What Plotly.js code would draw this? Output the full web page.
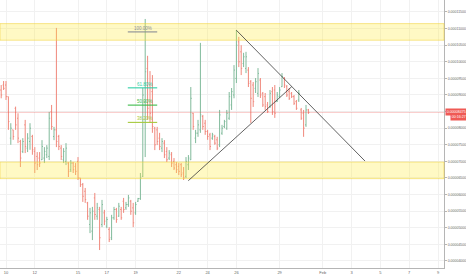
<!DOCTYPE html>
<html><head><meta charset="utf-8">
<script src="https://cdn.plot.ly/plotly-3.0.1.min.js"></script>
<style>html,body{margin:0;padding:0;background:#fff;}#chart{width:466px;height:275px;}</style>
</head><body><div id="chart"></div>
<script>
// 4h bars, prices in units of 1e-8 (satoshi)
var firstBar = '2018-01-09 16:00';
var barHours = 4;
var open = [9150,9300,9300,8950,7700,7950,8600,8300,7600,7300,
 8100,7400,7600,7750,7300,7150,7100,7050,7100,7200,
 7150,8500,7750,7950,7750,7400,7050,7000,6950,6750,
 6950,6850,7000,6500,6300,6100,5750,5100,4900,5900,
 5350,5550,5100,5450,5050,4950,4700,5300,5550,5350,
 5550,5800,5600,5700,5800,5600,5450,5800,5880,6550,
 8800,9800,9300,9100,8000,7950,7700,7400,7550,7300,
 7100,7200,7000,6900,6850,6900,6650,6550,6900,7050,
 8450,7700,7850,7950,8350,8150,7900,7800,7700,7750,
 7650,7500,7850,8050,8000,8300,8700,9000,9500,10600,
 10300,9950,9800,9750,9400,9300,9200,9050,9450,9050,
 8950,8700,8650,9100,9150,8800,8950,9250,9500,9250,
 9100,9050,8950,8800,8850,8550,8450,8100,8550];
var high = [9300,9420,9420,8950,8150,7950,8650,8450,7650,7700,
 8250,7850,8150,7800,7430,7280,7280,7640,7430,7490,
 8490,8700,8040,11020,7800,7490,7400,7550,6980,7040,
 6980,6950,7130,6500,6350,6200,5780,5600,5630,6050,
 5750,5630,5840,5540,5330,5020,5390,5630,5600,5750,
 5630,5900,5780,5990,5840,5750,5780,5900,6650,9210,
 11290,10180,9720,9600,8040,8040,7860,7700,7640,7430,
 7340,7280,7100,6980,6950,6950,6830,7130,7190,9240,
 8460,7950,8250,10570,8400,8250,7950,7860,7860,7800,
 7740,8550,8100,8250,8550,9090,9210,9900,10960,10750,
 10500,10270,10300,9840,9450,9390,9510,9810,9510,9090,
 9060,8790,9150,9240,9300,9090,9240,9660,9540,9300,
 9210,9090,9000,8850,9150,8610,8550,8700,8580];
var low = [8900,9150,8850,7950,7500,7650,7950,7550,6830,7250,
 7250,7280,7350,7200,6650,6740,6830,7040,6950,7100,
 7040,7950,7640,7430,7340,7040,6950,6890,6530,6680,
 6650,6590,6440,6230,5780,5750,5240,4840,4630,5240,
 5240,4330,5020,5080,4990,4570,4630,5240,5150,5330,
 5240,5450,5540,5630,5390,5020,5390,5780,5840,6530,
 7130,8250,8160,7860,7340,7490,7340,7280,7100,6980,
 7040,6830,6740,6650,6590,6530,6440,6500,6740,7040,
 7950,7550,7740,7860,7950,7800,7650,7340,7650,7500,
 7340,7430,7800,8000,7950,8250,8550,8900,9360,9840,
 9600,9840,9660,9240,8160,8640,9060,8940,8910,8640,
 8550,8460,8610,8400,8310,8790,8910,9240,9210,8940,
 8850,8910,8700,8550,8790,8250,7740,8040,8430];
var close = [9000,9200,8950,8200,8000,7750,8100,7700,7100,7600,
 7450,7700,8000,7350,6950,6900,6950,7450,7300,7400,
 8300,8050,7950,7600,7450,7150,7300,7400,6700,6950,
 6750,6700,6500,6300,5950,5850,5350,5450,5500,5400,
 5600,4700,5700,5200,5250,4650,5300,5550,5250,5650,
 5300,5550,5700,5900,5500,5150,5700,5880,6500,9000,
 9700,8600,8450,8050,7500,7600,7450,7600,7200,7050,
 7250,6950,6800,6750,6700,6600,6500,7000,7100,8900,
 8050,7850,8100,8400,8050,7900,7750,7450,7800,7550,
 7400,8400,8000,8200,8450,8950,9100,9750,10500,10000,
 9800,10150,10150,9350,8900,8800,9400,9650,9000,8700,
 8650,8500,9050,8500,8450,9000,9150,9550,9300,9000,
 8900,8950,8750,8600,9050,8300,8000,8550,8475];

var xTickVals = ['2018-01-10','2018-01-12','2018-01-15','2018-01-17','2018-01-19','2018-01-22','2018-01-24','2018-01-26','2018-01-29','2018-02-01','2018-02-03','2018-02-05','2018-02-07','2018-02-09'];
var xTickText = ['10','12','15','17','19','22','24','26','29','Feb','3','5','7','9'];
var yTickSat = [4000,4500,5000,5500,6000,6500,7000,7500,8000,8500,9000,9500,10000,10500,11000,11500];

var zones = [[10650, 11150], [6480, 6980]];
var fibLow = 6490, fibHigh = 10900;
var fibRatios = [1.0, 0.618, 0.5, 0.382];
var fibLabels = ['100.00%', '61.80%', '50.00%', '38.20%'];
var fibColors = ['#8a8d95', '#2fcfa6', '#3dbb4a', '#a6c93c'];
var fibStart = '2018-01-18 11:00', fibEnd = '2018-01-20 12:00', fibLabelX = '2018-01-20 06:00';
var triUp = [['2018-01-22 15:50', 6418], ['2018-01-29 20:10', 9250]];
var triDown = [['2018-01-26 00:00', 10950], ['2018-02-03 22:20', 7010]];
var lastPrice = 8475;
var countdown = '00:16:27';

var S = 1e-8;
function sc(a){ return a.map(function(v){ return v*S; }); }
var t0 = new Date(firstBar.replace(' ','T') + ':00Z').getTime();
var xs = open.map(function(_, i){ return new Date(t0 + i*barHours*3600000).toISOString().slice(0,16).replace('T',' '); });

var trace = {
  type: 'ohlc', x: xs, open: sc(open), high: sc(high), low: sc(low), close: sc(close),
  increasing: {line: {color: '#80ba9b', width: 1}},
  decreasing: {line: {color: '#f0887c', width: 1}},
  tickwidth: 0.4, hoverinfo: 'skip', showlegend: false
};

var shapes = [];
zones.forEach(function(z){
  shapes.push({type:'rect', xref:'paper', yref:'y', x0:0, x1:1, y0:z[0]*S, y1:z[1]*S,
    fillcolor:'rgba(255,235,60,0.3)', line:{color:'rgba(240,210,60,0.55)', width:1}, layer:'above'});
});
shapes.push({type:'line', xref:'paper', yref:'y', x0:0, x1:1, y0:lastPrice*S, y1:lastPrice*S,
  line:{color:'rgba(239,83,80,0.3)', width:1}, layer:'above'});
var annotations = [];
fibRatios.forEach(function(r, k){
  var v = (fibLow + r*(fibHigh - fibLow))*S;
  shapes.push({type:'line', xref:'x', yref:'y', x0:fibStart, x1:fibEnd, y0:v, y1:v,
    line:{color:fibColors[k], width:1.1}, layer:'above'});
  annotations.push({xref:'x', yref:'y', x:fibLabelX, y:v, text:fibLabels[k], showarrow:false,
    xanchor:'right', yanchor:'bottom', yshift:-1, font:{family:'Arial, Liberation Sans, sans-serif', size:4.5, color:fibColors[k]}});
});
[triUp, triDown].forEach(function(t){
  shapes.push({type:'line', xref:'x', yref:'y', x0:t[0][0], y0:t[0][1]*S, x1:t[1][0], y1:t[1][1]*S,
    line:{color:'#3a3a3a', width:0.8}, layer:'above'});
});
annotations.push({xref:'paper', yref:'y', x:1, y:lastPrice*S, xanchor:'left', yanchor:'middle', xshift:1,
  text:(lastPrice*S).toFixed(8), showarrow:false, bgcolor:'#ef5a55', borderpad:0.8,
  font:{family:'Arial, Liberation Sans, sans-serif', size:3.6, color:'#ffffff'}});
annotations.push({xref:'paper', yref:'y', x:1, y:lastPrice*S, xanchor:'left', yanchor:'middle', xshift:6, yshift:-5,
  text:countdown, showarrow:false, bgcolor:'#ef5a55', borderpad:0.8,
  font:{family:'Arial, Liberation Sans, sans-serif', size:3.6, color:'#ffffff'}});

var layout = {
  width:466, height:275, margin:{l:0, r:22, t:0, b:7, pad:0},
  paper_bgcolor:'#ffffff', plot_bgcolor:'#ffffff', showlegend:false,
  font:{family:'Arial, Liberation Sans, sans-serif', color:'#666'},
  xaxis:{type:'date', range:['2018-01-09 14:00','2018-02-09 10:00'], tickvals:xTickVals, ticktext:xTickText,
    tickfont:{size:4, color:'#666'}, showgrid:true, gridcolor:'#f1f1f1', gridwidth:1, showline:true, linecolor:'#b5b5b5',
    ticks:'', zeroline:false, rangeslider:{visible:false}, fixedrange:true},
  yaxis:{side:'right', range:[3789*S, 11861*S], tickvals:sc(yTickSat), ticktext:yTickSat.map(function(v){return (v*S).toFixed(8);}),
    tickfont:{size:3.5, color:'#666'}, showgrid:true, gridcolor:'#f1f1f1', gridwidth:1, showline:true, linecolor:'#b5b5b5',
    ticks:'outside', ticklen:2, tickcolor:'#b5b5b5', zeroline:false, fixedrange:true},
  shapes:shapes, annotations:annotations
};
Plotly.newPlot('chart', [trace], layout, {staticPlot:true, displayModeBar:false});
</script></body></html>
